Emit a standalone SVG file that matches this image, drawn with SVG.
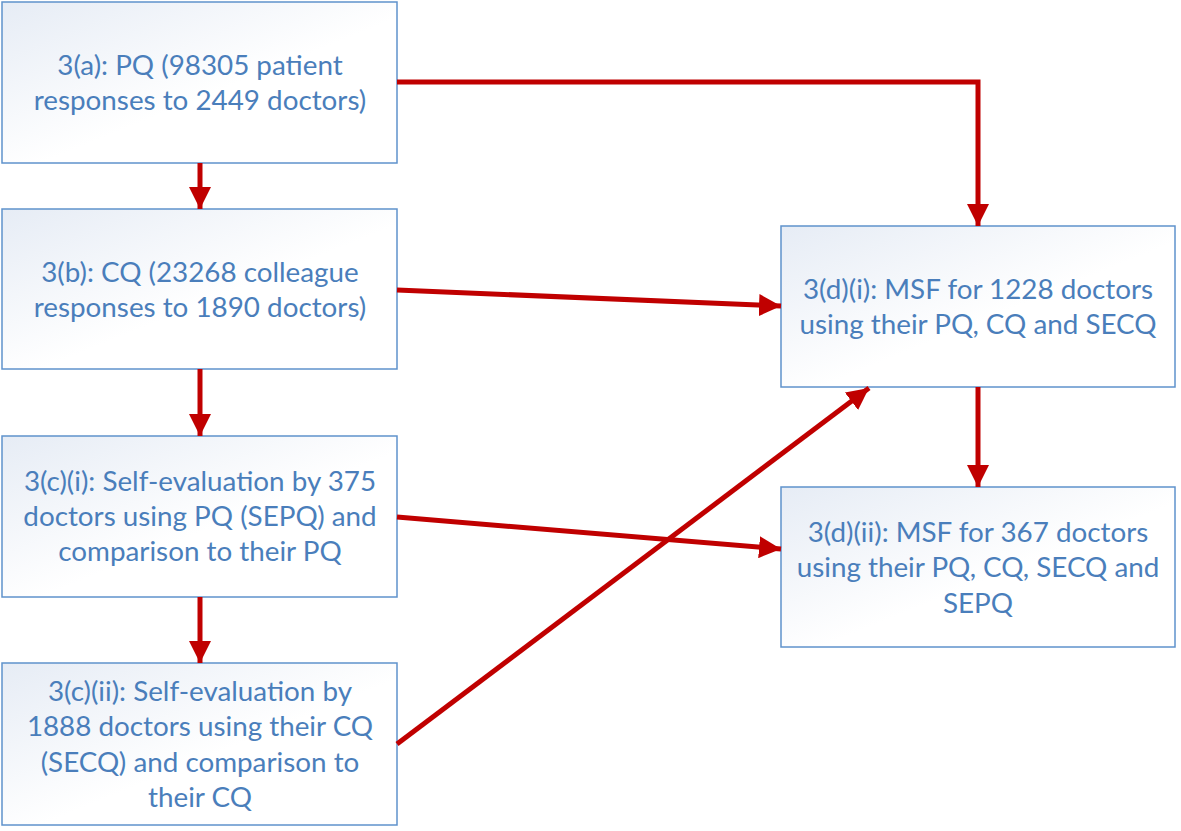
<svg xmlns="http://www.w3.org/2000/svg" width="1181" height="831" viewBox="0 0 1181 831">
<defs>
<linearGradient id="g" x1="0" y1="0" x2="1" y2="1">
<stop offset="0" stop-color="#e6ecf5"/>
<stop offset="0.55" stop-color="#ffffff"/>
<stop offset="1" stop-color="#ffffff"/>
</linearGradient>
<marker id="ah" viewBox="0 0 10 10" refX="10" refY="5" markerWidth="4.4" markerHeight="4.4" orient="auto" markerUnits="strokeWidth">
<path d="M0,0 L10,5 L0,10 Z" fill="#c00000"/>
</marker>
<style>
.box{fill:url(#g);stroke:#5f92cc;stroke-width:1.5}
.t{font-family:Lato,"Open Sans","Liberation Sans",sans-serif;font-size:27.8px;fill:#4a7ebb;text-anchor:middle}
.c{fill:none;stroke:#c00000;stroke-width:5;marker-end:url(#ah)}
</style>
</defs>
<rect width="1181" height="831" fill="#ffffff"/>
<g id="n3a"><rect class="box" x="2" y="2" width="395" height="161"/>
<text class="t" x="200" y="75">3(a): PQ (98305 patient</text>
<text class="t" x="200" y="110">responses to 2449 doctors)</text></g>
<g id="n3b"><rect class="box" x="2" y="209" width="395" height="160"/>
<text class="t" x="200" y="282">3(b): CQ (23268 colleague</text>
<text class="t" x="200" y="317">responses to 1890 doctors)</text></g>
<g id="n3ci"><rect class="box" x="2" y="436" width="395" height="161"/>
<text class="t" x="200" y="491">3(c)(i): Self-evaluation by 375</text>
<text class="t" x="200" y="526">doctors using PQ (SEPQ) and</text>
<text class="t" x="200" y="561">comparison to their PQ</text></g>
<g id="n3cii"><rect class="box" x="2" y="663" width="395" height="162"/>
<text class="t" x="200" y="701">3(c)(ii): Self-evaluation by</text>
<text class="t" x="200" y="736">1888 doctors using their CQ</text>
<text class="t" x="200" y="772">(SECQ) and comparison to</text>
<text class="t" x="200" y="807">their CQ</text></g>
<g id="n3di"><rect class="box" x="781" y="226" width="394" height="161"/>
<text class="t" x="978" y="299">3(d)(i): MSF for 1228 doctors</text>
<text class="t" x="978" y="334">using their PQ, CQ and SECQ</text></g>
<g id="n3dii"><rect class="box" x="781" y="487" width="394" height="160"/>
<text class="t" x="978" y="542">3(d)(ii): MSF for 367 doctors</text>
<text class="t" x="978" y="577">using their PQ, CQ, SECQ and</text>
<text class="t" x="978" y="613">SEPQ</text></g>
<g id="connectors">
<path class="c" d="M397,82 H978 V226"/>
<path class="c" d="M200,163 V209"/>
<path class="c" d="M397,290 L781,306"/>
<path class="c" d="M200,369 V436"/>
<path class="c" d="M397,517 L781,549"/>
<path class="c" d="M200,597 V663"/>
<path class="c" d="M397,744 L869,388"/>
<path class="c" d="M978,387 V487"/>
</g>
</svg>
